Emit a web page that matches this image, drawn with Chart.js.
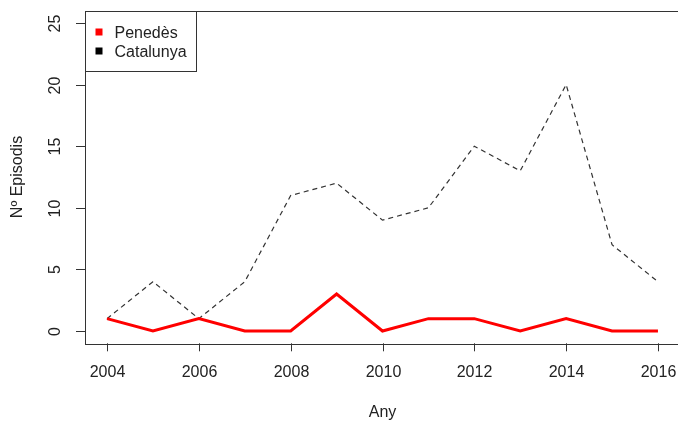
<!DOCTYPE html>
<html>
<head>
<meta charset="utf-8">
<script src="https://cdn.jsdelivr.net/npm/chart.js@4/dist/chart.umd.min.js"></script>
<style>
  html, body { margin: 0; padding: 0; background: #fff; overflow: hidden; }
  #wrap { width: 690px; height: 423px; }
</style>
</head>
<body>
<div id="wrap"><canvas id="episodis"></canvas></div>
<script>
var anys = [2004, 2005, 2006, 2007, 2008, 2009, 2010, 2011, 2012, 2013, 2014, 2015, 2016];
var penedes = [1, 0, 1, 0, 0, 3, 0, 1, 1, 0, 1, 0, 0];
var catalunya = [1, 4, 1, 4, 11, 12, 9, 10, 15, 13, 20, 7, 4];
var xTicks = [2004, 2006, 2008, 2010, 2012, 2014, 2016];
var yTicks = [0, 5, 10, 15, 20, 25];

var font = '16px "Liberation Sans", Arial, sans-serif';

function pts(vals) {
  return anys.map(function (a, i) { return { x: a, y: vals[i] }; });
}

// box, ticks, labels and legend drawn in base-graphics style
var rStyle = {
  id: 'rStyle',
  afterDraw: function (chart) {
    var c = chart.ctx, a = chart.chartArea;
    var xs = chart.scales.x, ys = chart.scales.y;
    c.save();
    c.strokeStyle = '#333';
    c.lineWidth = 1;
    c.strokeRect(Math.round(a.left) + 0.5, Math.round(a.top) + 0.5,
      Math.round(a.right - a.left), Math.round(a.bottom - a.top));

    c.fillStyle = '#222';
    c.font = font;
    c.textAlign = 'center';
    c.textBaseline = 'middle';
    xTicks.forEach(function (v) {
      var px = Math.round(xs.getPixelForValue(v)) + 0.5;
      c.beginPath();
      c.moveTo(px, a.bottom);
      c.lineTo(px, a.bottom + 8);
      c.stroke();
      c.fillText(String(v), px, a.bottom + 29);
    });
    yTicks.forEach(function (v) {
      var py = Math.round(ys.getPixelForValue(v)) + 0.5;
      c.beginPath();
      c.moveTo(a.left, py);
      c.lineTo(a.left - 9, py);
      c.stroke();
      c.save();
      c.translate(a.left - 29, py);
      c.rotate(-Math.PI / 2);
      c.fillText(String(v), 0, 0);
      c.restore();
    });

    // axis titles
    c.fillText('Any', (a.left + 680) / 2, 413);
    c.save();
    c.translate(18, (a.top + a.bottom) / 2);
    c.rotate(-Math.PI / 2);
    c.fillText('Nº Episodis', 0, 0);
    c.restore();

    // legend
    var lx = Math.round(a.left) + 0.5, ly = Math.round(a.top) + 0.5;
    c.fillStyle = '#fff';
    c.fillRect(lx, ly, 111, 60);
    c.strokeRect(lx, ly, 111, 60);
    c.textAlign = 'left';
    chart.data.datasets.forEach(function (ds, i) {
      var cy = ly + 21 + i * 19;
      c.fillStyle = ds.legendColor;
      c.fillRect(lx + 10, cy - 4, 7, 7);
      c.fillStyle = '#222';
      c.fillText(ds.label, lx + 29, cy + 1);
    });
    c.restore();
  }
};

new Chart(document.getElementById('episodis'), {
  type: 'line',
  data: {
    datasets: [{
      label: 'Penedès',
      data: pts(penedes),
      borderColor: '#ff0000',
      legendColor: '#ff0000',
      borderWidth: 3,
      pointRadius: 0,
      tension: 0
    }, {
      label: 'Catalunya',
      data: pts(catalunya),
      borderColor: '#333333',
      legendColor: '#000000',
      borderWidth: 1.2,
      borderDash: [5, 4],
      pointRadius: 0,
      tension: 0
    }]
  },
  options: {
    responsive: true,
    maintainAspectRatio: false,
    animation: false,
    events: [],
    layout: { padding: { left: 85, top: 10.7, right: 10, bottom: 79.7 } },
    plugins: { legend: { display: false }, tooltip: { enabled: false } },
    scales: {
      x: { type: 'linear', min: 2003.52, max: 2016.48, display: false },
      y: { type: 'linear', min: -1, max: 26, display: false }
    }
  },
  plugins: [rStyle]
});
</script>
</body>
</html>
